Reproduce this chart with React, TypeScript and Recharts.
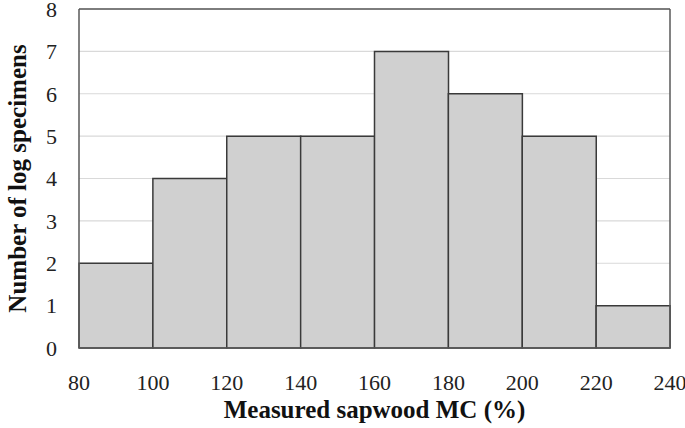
import React from "react";
import { BarChart, Bar, XAxis, YAxis, CartesianGrid, ReferenceLine } from "recharts";

const binCenters = [90, 110, 130, 150, 170, 190, 210, 230];
const counts = [2, 4, 5, 5, 7, 6, 5, 1];
const xTicks = [80, 100, 120, 140, 160, 180, 200, 220, 240];
const yTicks = [0, 1, 2, 3, 4, 5, 6, 7, 8];

const data = binCenters.map((x, i) => ({ x, count: counts[i] }));

const font = "'Liberation Serif', 'Times New Roman', serif";

export default function App() {
  return (
    <div style={{ position: "absolute", left: 0, top: 0, background: "#fff" }}>
      <BarChart
        width={685}
        height={428}
        data={data}
        margin={{ top: 9, right: 15, bottom: 10, left: 0 }}
        barCategoryGap={0}
        barGap={0}
      >
        <CartesianGrid vertical={false} stroke="#d9d9d9" strokeWidth={1.2} />
        <XAxis
          dataKey="x"
          type="number"
          domain={[80, 240]}
          ticks={xTicks}
          interval={0}
          height={70}
          tickLine={false}
          axisLine={{ stroke: "#595959", strokeWidth: 1.5 }}
          tick={{ fill: "#222", fontSize: 22, fontFamily: font }}
          tickMargin={20}
          label={{
            value: "Measured sapwood MC (%)",
            position: "insideBottom",
            offset: 0,
            style: { fontFamily: font, fontSize: 25, fontWeight: "bold", fill: "#111" },
          }}
        />
        <YAxis
          domain={[0, 8]}
          ticks={yTicks}
          interval={0}
          width={79}
          tickLine={false}
          axisLine={{ stroke: "#595959", strokeWidth: 1.5 }}
          tick={{ fill: "#222", fontSize: 22, fontFamily: font }}
          tickMargin={16}
          label={{
            value: "Number of log specimens",
            angle: -90,
            position: "center",
            dx: -22,
            style: { fontFamily: font, fontSize: 25, fontWeight: "bold", fill: "#111", textAnchor: "middle" },
          }}
        />
        <ReferenceLine y={8} stroke="#595959" strokeWidth={1.5} />
        <ReferenceLine x={240} stroke="#595959" strokeWidth={1.5} />
        <Bar dataKey="count" fill="#d0d0d0" stroke="#3a3a3a" strokeWidth={1.5} isAnimationActive={false} />
      </BarChart>
    </div>
  );
}
